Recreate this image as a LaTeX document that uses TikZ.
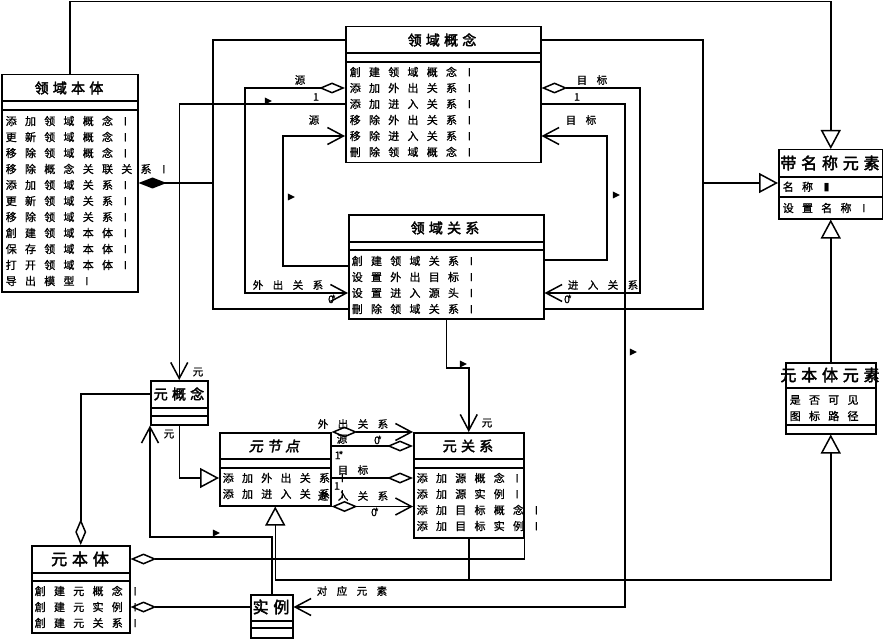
\documentclass[tikz,border=0pt]{standalone}
\usepackage{fontspec}
\usetikzlibrary{arrows.meta,shapes.geometric}
\newfontfamily\cjk[LetterSpace=75,FakeBold=1]{Noto Sans CJK SC}
\newfontfamily\cjkhead[LetterSpace=30,FakeBold=2.5]{Noto Sans CJK SC}
\newfontfamily\cjkital[LetterSpace=30,FakeBold=2.5,FakeSlant=0.2]{Noto Sans CJK SC}
\newfontfamily\cjkrole[LetterSpace=90,FakeBold=1]{Noto Sans CJK SC}
\newfontfamily\symfont{DejaVu Sans}
\newcommand\zerostar{0\kern-3pt*}
\tikzset{
  aggtip/.tip={Diamond[open,length=26pt,width=11pt]},
  comptip/.tip={Diamond[length=28pt,width=11pt]},
  isatip/.tip={Triangle[open,length=19pt,width=20pt]},
  opentip/.tip={Straight Barb[length=16pt,width=17pt]}
}

\begin{document}
\begin{tikzpicture}[x=1pt,y=-1pt,line width=1.5pt]
            \tikzstyle{class box}=[draw,fill=white,inner sep=0,anchor=north west]
            \tikzstyle{head}=[inner sep=0,font=\cjkhead\fontsize{14}{16}\selectfont]
            \tikzstyle{big head}=[inner sep=0,font=\cjkhead\fontsize{16}{18}\selectfont]
            \tikzstyle{op}=[inner sep=0,anchor=west,font=\cjk\fontsize{11}{13}\selectfont]
            \tikzstyle{role}=[inner sep=0,font=\cjkrole\fontsize{10.5}{12}\selectfont]
            \tikzstyle{nav}=[isosceles triangle,fill,draw=none,inner sep=0,minimum width=7pt,minimum height=7pt,isosceles triangle stretches]
            \path[use as bounding box,fill=white] (0,0) rectangle (883,639);
            \node[class box,minimum width=136pt,minimum height=217pt] (do) at (1,74) {};
            \node[class box,minimum width=195pt,minimum height=136pt] (dc) at (345,26) {};
            \node[class box,minimum width=195pt,minimum height=104pt] (dr) at (348,214) {};
            \node[class box,minimum width=104pt,minimum height=69pt] (ne) at (778,149) {};
            \node[class box,minimum width=90pt,minimum height=71pt] (moe) at (785,362) {};
            \node[class box,minimum width=57pt,minimum height=44pt] (mc) at (150,380) {};
            \node[class box,minimum width=111pt,minimum height=73pt] (mn) at (219,432) {};
            \node[class box,minimum width=110pt,minimum height=105pt] (mr) at (413,432) {};
            \node[class box,minimum width=98pt,minimum height=87pt] (mo) at (31,545) {};
            \node[class box,minimum width=42pt,minimum height=43pt] (inst) at (250,594) {};
            \foreach \b/\u/\v in {do/101/110,dc/53/62,dr/242/250,ne/177/197,moe/388/425,mc/408/416,mn/459/468,mr/459/468,mo/573/581,inst/621/628}
              \draw (\b.west |- 0,\u) -- (\b.east |- 0,\u) (\b.west |- 0,\v) -- (\b.east |- 0,\v);
            \node[head] (do-t) at (69,88) {领域本体};
            \node[head] (dc-t) at (442,40) {领域概念};
            \node[head] (dr-t) at (445,228) {领域关系};
            \node[big head] (ne-t) at (830,163) {带名称元素};
            \node[big head] (moe-t) at (830,375) {元本体元素};
            \node[head] (mc-t) at (179,394) {元概念};
            \node[head,font=\cjkital\fontsize{14}{16}\selectfont] (mn-t) at (274,446) {元节点};
            \node[head] (mr-t) at (468,446) {元关系};
            \node[big head] (mo-t) at (80,559) {元本体};
            \node[big head] (inst-t) at (271,607) {实例};
            \foreach \t [count=\i] in {添加领域概念 I,更新领域概念 I,移除领域概念 I,移除概念关联关系 I,添加领域关系 I,更新领域关系 I,移除领域关系 I,創建领域本体 I,保存领域本体 I,打开领域本体 I,导出模型 I}
              \node[op] (do-\i) at (5,105+16*\i) {\t};
            \foreach \t [count=\i] in {創建领域概念 I,添加外出关系 I,添加进入关系 I,移除外出关系 I,移除进入关系 I,刪除领域概念 I}
              \node[op] (dc-\i) at (349,56+16*\i) {\t};
            \foreach \t [count=\i] in {創建领域关系 I,设置外出目标 I,设置进入源头 I,刪除领域关系 I}
              \node[op] (dr-\i) at (351,245+16*\i) {\t};
            \node[op] (ne-1) at (782,187) {名称 {\symfont ▮}};
            \node[op] (ne-2) at (782,208) {设置名称 I};
            \node[op] (moe-1) at (789,400) {是否可见};
            \node[op] (moe-2) at (789,416) {图标路径};
            \foreach \t [count=\i] in {添加外出关系 I,添加进入关系 I}
              \node[op] (mn-\i) at (222,462+16*\i) {\t};
            \foreach \t [count=\i] in {添加源概念 I,添加源实例 I,添加目标概念 I,添加目标实例 I}
              \node[op] (mr-\i) at (416,462+16*\i) {\t};
            \foreach \t [count=\i] in {創建元概念 I,創建元实例 I,創建元关系 I}
              \node[op] (mo-\i) at (34,575+16*\i) {\t};
            \node[role] (r1) at (300,80) {源};
            \node[role] (r2) at (316,97) {1};
            \node[role] (r3) at (314,120) {源};
            \node[role] (r4) at (592,80) {目标};
            \node[role] (r5) at (577,97) {1};
            \node[role] (r6) at (581,120) {目标};
            \node[role] (r7) at (288,285) {外出关系};
            \node[role] (r8) at (332,299) {\zerostar};
            \node[role] (r9) at (603,285) {进入关系};
            \node[role] (r10) at (568,299) {\zerostar};
            \node[role] (r11) at (198,372) {元};
            \node[role] (r12) at (169,434) {元};
            \node[role] (r13) at (487,423) {元};
            \node[role] (r14) at (353,424) {外出关系};
            \node[role] (r15) at (378,440) {\zerostar};
            \node[role] (r16) at (342,439) {源};
            \node[role] (r17) at (339,455) {1\kern-2pt*};
            \node[role] (r18) at (353,470) {目标};
            \node[role] (r19) at (337,486) {1};
            \node[role] (r20) at (353,496) {进入关系};
            \node[role] (r21) at (375,512) {\zerostar};
            \node[role] (r22) at (352,591) {对应元素};
            \draw[-isatip] (do.north) |- (ne.north |- 0,1.5) -- (ne.north);
            \coordinate (jl) at (213,183);
            \coordinate (jr) at (703,183);
            \draw[comptip-] (do.east |- jl) -- (jl);
            \draw (dc.west |- dc-t) -| (jl) |- (dr.west |- dr-4);
            \draw (dc.east |- dc-t) -| (jr) |- (dr.east |- dr-4);
            \draw[-isatip] (jr) -- (ne.west |- jr);
            \draw[aggtip-opentip] (dc.west |- dc-2) -| (245,293) -- (dr.west |- dr-3);
            \draw[aggtip-opentip] (dc.east |- dc-2) -| (640,293) -- (dr.east |- dr-3);
            \draw[-opentip] (dc.west |- dc-3) -| (mc.north);
            \draw[-opentip] (dc.east |- dc-3) -| (625,607) -- (inst.east |- inst-t);
            \draw[-opentip] (dr.west |- 0,266) -| (283,136) -- (dc.west |- dc-5);
            \draw[-opentip] (dr.east |- 0,260) -| (607,136) -- (dc.east |- dc-5);
            \draw[-opentip] (dr.south) |- (mr.north |- 0,368) -- (mr.north);
            \draw[-isatip] (mc.south) |- (mn.west |- mn-1);
            \draw[aggtip-] (mo.north) |- (mc.west |- mc-t);
            \draw[-opentip] (inst.north) |- (mc.south west |- 0,537) -- (mc.south west);
            \draw[aggtip-] (mo.east |- mo-t) -| (mr.south east);
            \draw[aggtip-] (mo.east |- mo-2) -- (inst.west |- mo-2);
            \draw (mr.south) -- (mr.south |- 0,580);
            \draw[isatip-isatip] (mn.south) |- (moe.south |- 0,580) -- (moe.south);
            \draw[-isatip] (moe.north) -- (ne.south);
            \draw[aggtip-opentip] (mn.north east) -- (mr.north west);
            \draw[-aggtip] (mn.east |- mr-t) -- (mr.west |- mr-t);
            \draw[-aggtip] (mn.east |- mn-1) -- (mr.west |- mn-1);
            \draw[aggtip-opentip] (mn.south east) -- (mr.west |- mn.south east);
            \node[nav] (n1) at (267,101) {};
            \node[nav] (n2) at (290,197) {};
            \node[nav] (n3) at (615,195) {};
            \node[nav] (n4) at (632,352) {};
            \node[nav] (n5) at (462,364) {};
            \node[nav] (n6) at (215,533) {};
\end{tikzpicture}
\end{document}
